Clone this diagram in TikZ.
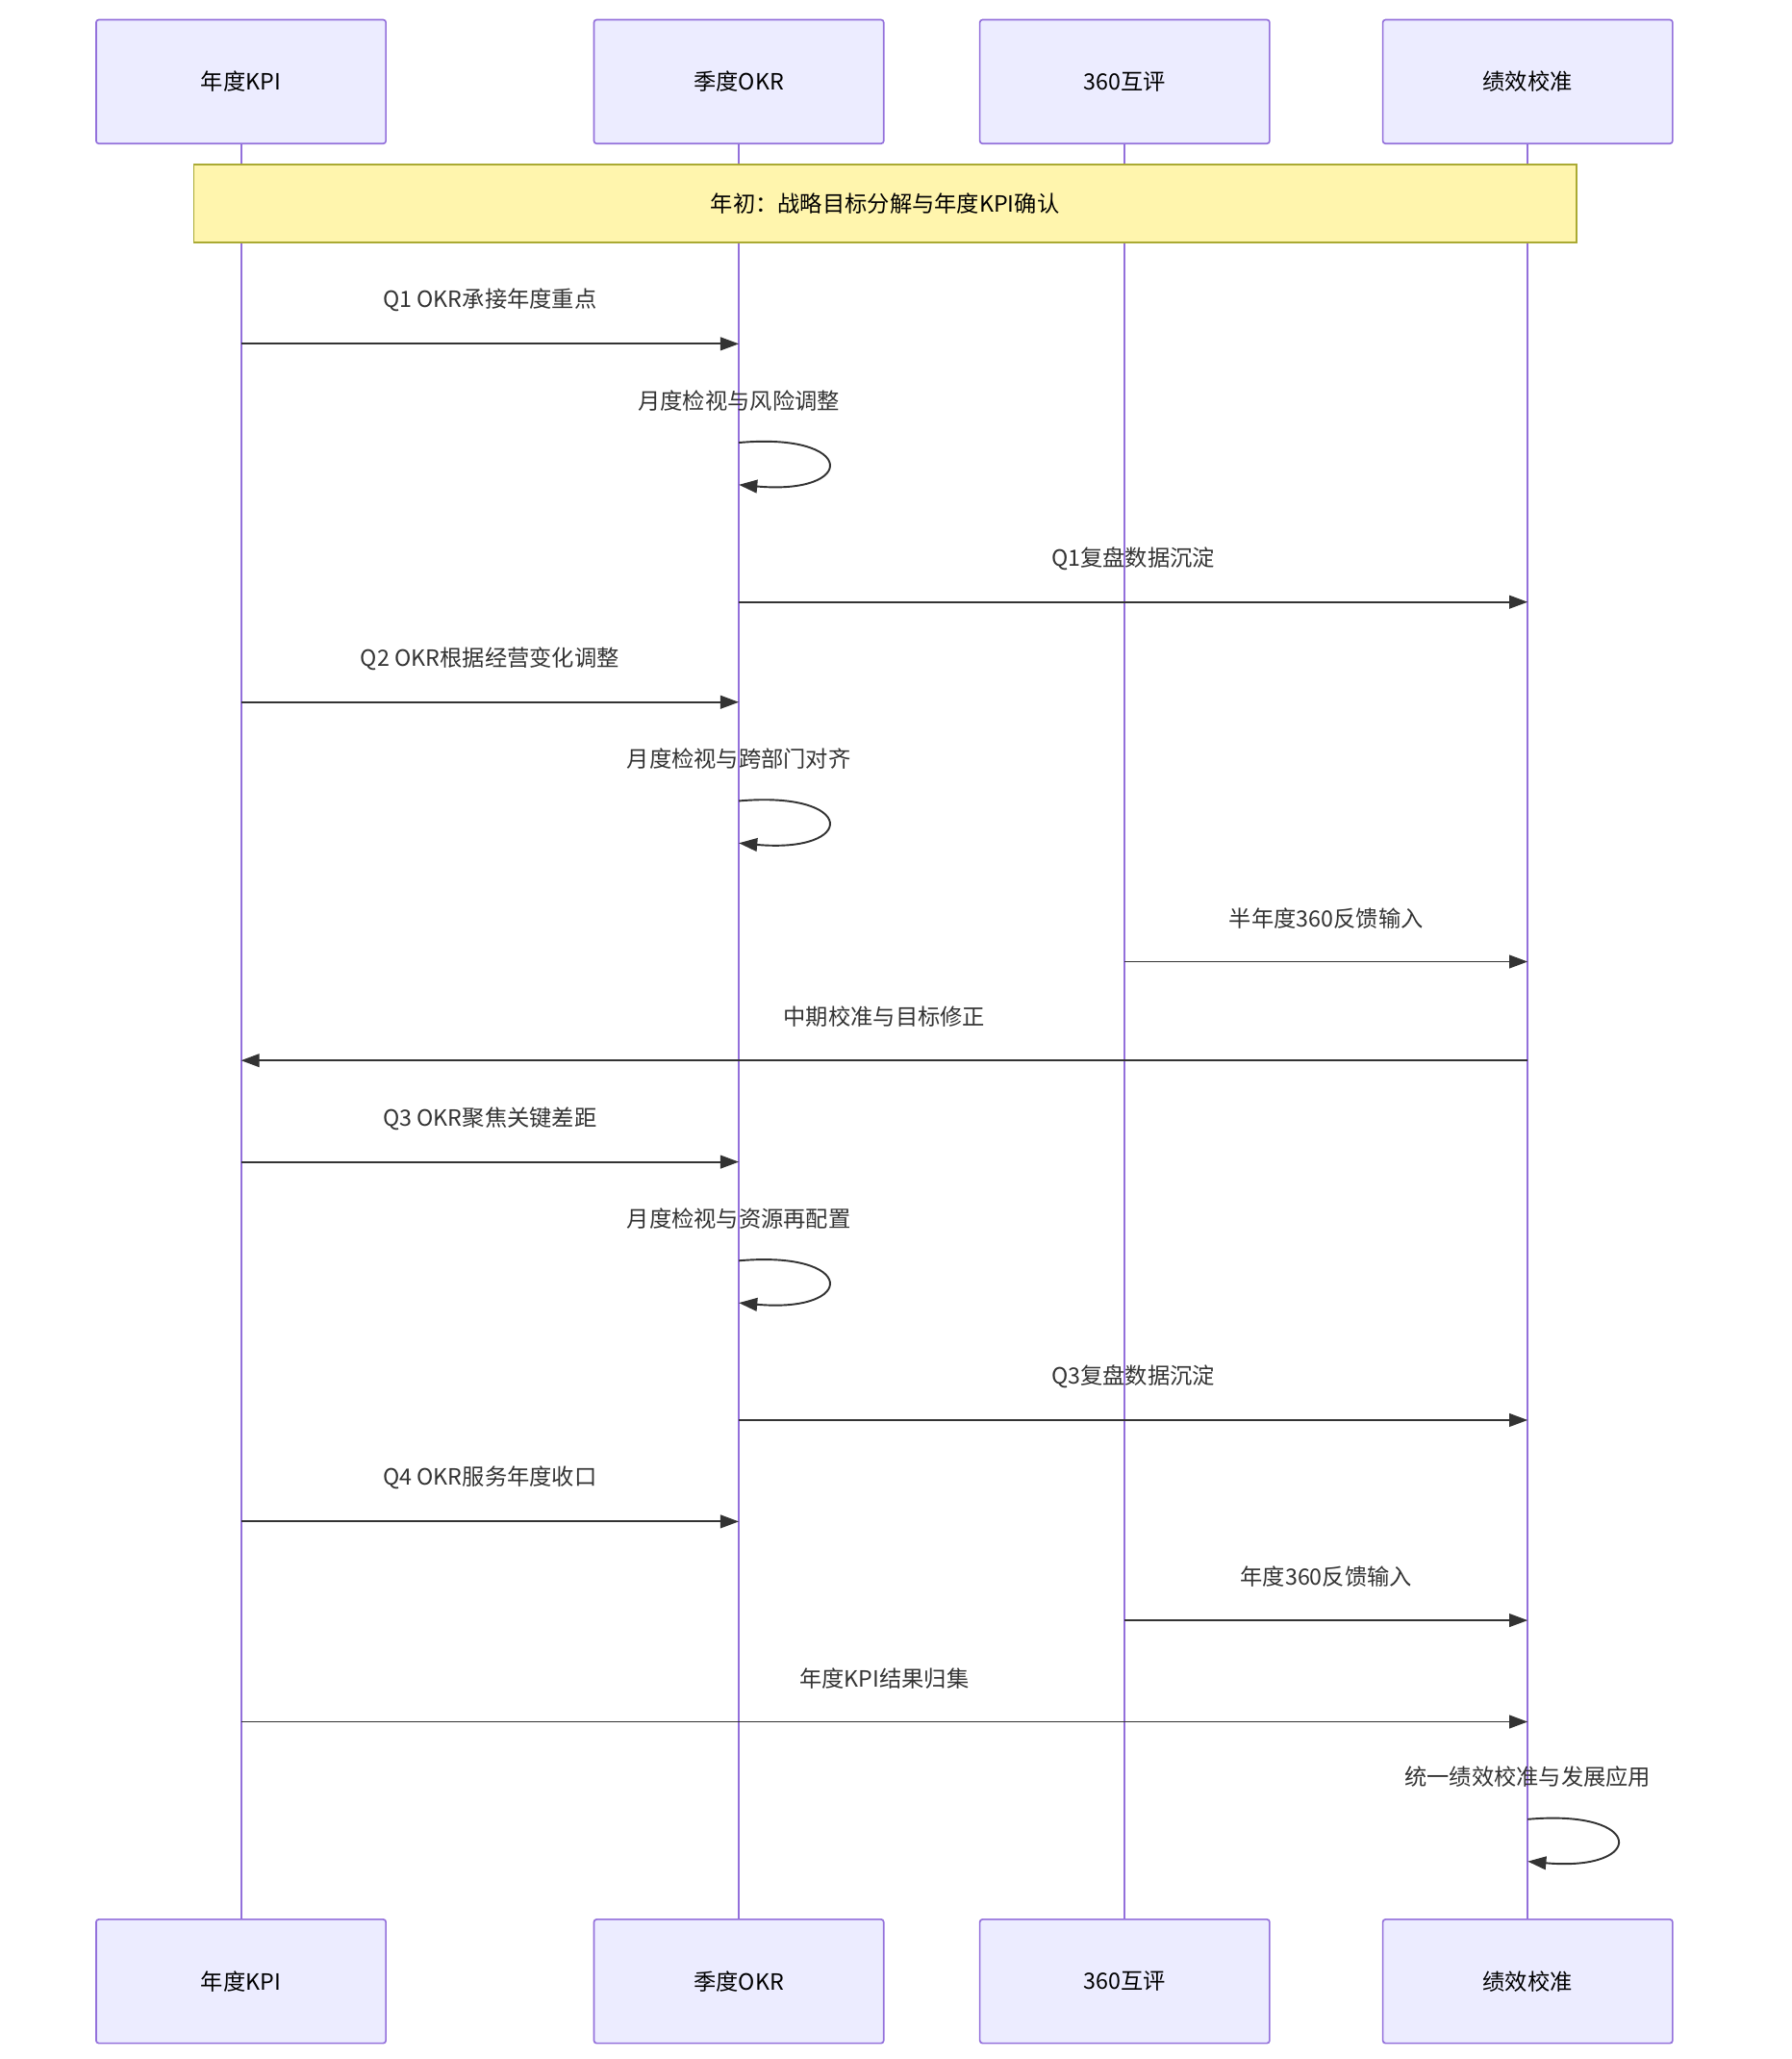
\documentclass[tikz,border=0pt]{standalone}
\usepackage{fontspec}
\setmainfont{Noto Sans CJK SC}
\usetikzlibrary{arrows.meta}
\definecolor{actfill}{HTML}{ECECFF}
\definecolor{actline}{HTML}{9370DB}
\definecolor{notefill}{HTML}{FFF5AD}
\definecolor{noteline}{HTML}{AAAA33}
\definecolor{ink}{HTML}{333333}
\tikzset{
actor/.style={draw=actline,fill=actfill,line width=1.2pt,rounded corners=2pt,minimum width=220pt,minimum height=94pt,font=\fontsize{17}{20}\selectfont,text=black},
life/.style={draw=actline,line width=1.5pt},
msg/.style={draw=ink,line width=1.4pt,-{Triangle[length=14pt,width=10pt]}},
lbl/.style={font=\fontsize{17}{20}\selectfont,text=ink}
}
\begin{document}
\begin{tikzpicture}[x=1pt,y=-1pt]
\useasboundingbox (0,0) rectangle (1360,1563);
\foreach \n/\x/\t in {a/183/年度KPI,b/561/季度OKR,c/854/360互评,d/1160/绩效校准}{
  \coordinate (\n t) at (\x,109);
  \coordinate (\n b) at (\x,1457);
  \draw[life] (\n t) -- (\n b);
  \node[actor] (\n top) at (\x,62) {\t};
  \node[actor] (\n bot) at (\x,1504) {\t};
}
\node[draw=noteline,fill=notefill,line width=1pt,minimum width=1050pt,minimum height=59pt,lbl,text=black] (note) at (672,154.5) {年初：战略目标分解与年度KPI确认};
% messages
\foreach \i/\fx/\tx/\y/\t in {
1/183/561/261/{Q1 OKR承接年度重点},
3/561/1160/457/{Q1复盘数据沉淀},
4/183/561/533/{Q2 OKR根据经营变化调整},
6/854/1160/730/{半年度360反馈输入},
7/1160/183/805/{中期校准与目标修正},
8/183/561/882/{Q3 OKR聚焦关键差距},
10/561/1160/1078/{Q3复盘数据沉淀},
11/183/561/1155/{Q4 OKR服务年度收口},
12/854/1160/1230/{年度360反馈输入},
13/183/1160/1307/{年度KPI结果归集}}{
  \coordinate (s\i) at (\fx,\y);
  \coordinate (e\i) at (\tx,\y);
  \draw[msg] (s\i) -- (e\i);
  \node[lbl] (l\i) at ({(\fx+\tx)/2},\y-33) {\t};
}
\foreach \i/\x/\y/\t in {2/561/336/{月度检视与风险调整},5/561/608/{月度检视与跨部门对齐},9/561/957/{月度检视与资源再配置},14/1160/1381/{统一绩效校准与发展应用}}{
  \coordinate (s\i) at (\x,\y);
  \coordinate (e\i) at (\x,\y+32);
  \draw[msg] (s\i) .. controls (\x+90,\y-8) and (\x+90,\y+40) .. (e\i);
  \node[lbl] (l\i) at (\x,\y-32) {\t};
}
\end{tikzpicture}
\end{document}
